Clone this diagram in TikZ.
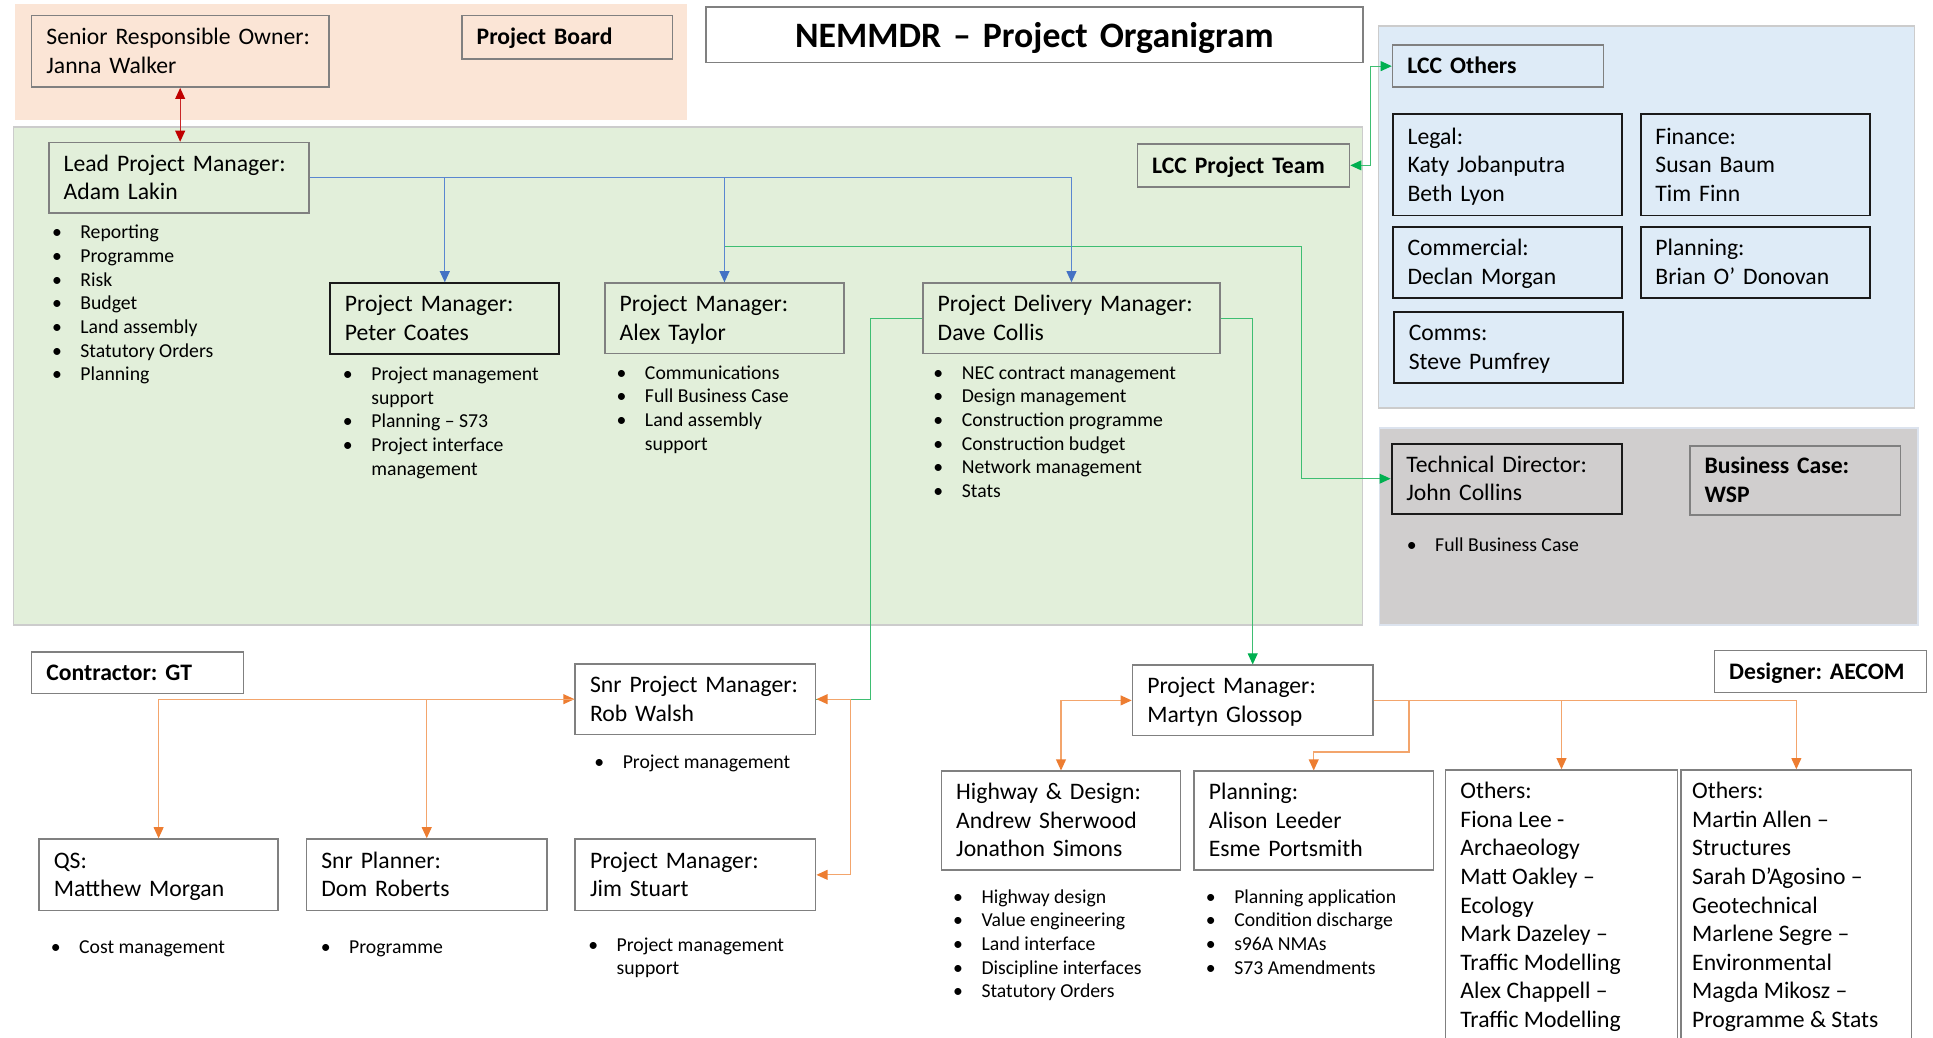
\documentclass[tikz,border=0pt]{standalone}
\usepackage{fontspec}
\setmainfont{Carlito}
\usetikzlibrary{arrows.meta}
\frenchspacing

\definecolor{pinkbg}{HTML}{FBE5D6}
\definecolor{greenbg}{HTML}{E2EFDA}
\definecolor{bluebg}{HTML}{DEEBF7}
\definecolor{greybg}{HTML}{D0CECE}
\definecolor{panelrule}{HTML}{CCCCCC}
\definecolor{greyrule}{HTML}{DCE3EE}
\definecolor{boxrule}{HTML}{808080}
\definecolor{darkrule}{HTML}{1A1A1A}
\definecolor{bluetip}{HTML}{4472C4}
\definecolor{blueline}{HTML}{5A86D0}
\definecolor{greentip}{HTML}{00B050}
\definecolor{greenline}{HTML}{3EBE72}
\definecolor{orangetip}{HTML}{ED7D31}
\definecolor{orangeline}{HTML}{F3A56C}
\definecolor{redtip}{HTML}{C00000}

\newcommand{\boxfont}{\fontsize{19.2}{23.2}\selectfont}
\newcommand{\titlefont}{\fontsize{29}{34}\selectfont\bfseries}
\newcommand{\listfont}{\fontsize{16}{19.2}\selectfont}
\newcommand{\itm}[1]{\strut\makebox[23pt][l]{\textbullet}#1}
\newcommand{\cont}[1]{\strut\hspace*{23pt}#1}

\tikzset{
  btip/.tip={Triangle[length=9pt,width=8pt,color=bluetip]},
  gtip/.tip={Triangle[length=9pt,width=8pt,color=greentip]},
  otip/.tip={Triangle[length=9pt,width=8pt,color=orangetip]},
  rtip/.tip={Triangle[length=9pt,width=8pt,color=redtip]},
  box/.style={draw=boxrule, line width=1.3pt, anchor=north west, align=left,
    inner xsep=12pt, inner ysep=0pt, font=\boxfont,
    execute at begin node=\rule{0pt}{19.5pt}, execute at end node=\strut},
  titlebox/.style={box, align=center, font=\titlefont,
    execute at begin node=\rule{0pt}{31.5pt}},
  dark/.style={draw=darkrule, line width=1.6pt},
  bold/.style={font=\boxfont\bfseries},
  tallbox/.style={draw=boxrule, line width=1.3pt, anchor=north west,
    inner xsep=12pt, inner ysep=7pt, font=\boxfont, fill=white},
  list/.style={anchor=north west, inner sep=0pt, align=left, font=\listfont},
  panel/.style={draw=panelrule, line width=1.2pt},
  conn/.style={line width=1pt},
  bl/.style={conn, draw=blueline, -{btip}},
  gr/.style={conn, draw=greenline, -{gtip}},
  grboth/.style={conn, draw=greenline, {gtip}-{gtip}},
  grline/.style={conn, draw=greenline},
  or/.style={conn, draw=orangeline, -{otip}},
  orboth/.style={conn, draw=orangeline, {otip}-{otip}},
  rdboth/.style={conn, draw=redtip!85, {rtip}-{rtip}},
}

\begin{document}
\begin{tikzpicture}[x=1pt,y=-1pt]
\path[use as bounding box, clip] (0,0) rectangle (1568,842);
\fill[white] (0,0) rectangle (1568,842);

% background panels
\fill[pinkbg] (12,3) rectangle (557,97);
\filldraw[fill=greenbg, panel] (11,103) rectangle (1105,507);
\filldraw[fill=bluebg, panel] (1118,21) rectangle (1553,331);
\filldraw[fill=greybg, draw=greyrule, line width=1.2pt] (1119,347) rectangle (1556,507);

% project board
\node[box, fill=pinkbg, text width=217pt, minimum height=58pt] (sro) at (25,12)
  {Senior Responsible Owner:\\Janna Walker};
\node[box, bold, fill=pinkbg, text width=147pt, minimum height=35pt] (board) at (374,12)
  {Project Board};
\node[titlebox, fill=white, text width=509pt, minimum height=45pt] (title) at (572,5)
  {NEMMDR – Project Organigram};

% LCC project team
\node[box, fill=greenbg, text width=187pt, minimum height=57pt] (lead) at (39,115)
  {Lead Project Manager:\\Adam Lakin};
\node[box, bold, fill=greenbg, text width=148pt, minimum height=35pt] (team) at (922,116)
  {LCC Project Team};
\node[box, dark, fill=greenbg, text width=162pt, minimum height=57pt] (peter) at (267,229)
  {Project Manager:\\Peter Coates};
\node[box, fill=greenbg, text width=170pt, minimum height=57pt] (alex) at (490,229)
  {Project Manager:\\Alex Taylor};
\node[box, fill=greenbg, text width=217pt, minimum height=57pt] (dave) at (748,229)
  {Project Delivery Manager:\\Dave Collis};

\node[list] (leadlist) at (42,180)
  {\itm{Reporting}\\\itm{Programme}\\\itm{Risk}\\\itm{Budget}\\\itm{Land assembly}\\\itm{Statutory Orders}\\\itm{Planning}};
\node[list] (peterlist) at (278,295)
  {\itm{Project management}\\\cont{support}\\\itm{Planning – S73}\\\itm{Project interface}\\\cont{management}};
\node[list] (alexlist) at (500,294)
  {\itm{Communications}\\\itm{Full Business Case}\\\itm{Land assembly}\\\cont{support}};
\node[list] (davelist) at (757,294)
  {\itm{NEC contract management}\\\itm{Design management}\\\itm{Construction programme}\\\itm{Construction budget}\\\itm{Network management}\\\itm{Stats}};

% LCC others
\node[box, bold, fill=bluebg, text width=147pt, minimum height=34pt] (others) at (1129,36)
  {LCC Others};
\node[box, dark, fill=bluebg, text width=162pt, minimum height=82pt] (legal) at (1129,92)
  {Legal:\\Katy Jobanputra\\Beth Lyon};
\node[box, dark, fill=bluebg, text width=162pt, minimum height=82pt] (finance) at (1330,92)
  {Finance:\\Susan Baum\\Tim Finn};
\node[box, dark, fill=bluebg, text width=162pt, minimum height=58pt] (commercial) at (1129,183)
  {Commercial:\\Declan Morgan};
\node[box, dark, fill=bluebg, text width=162pt, minimum height=58pt] (lccplan) at (1330,183)
  {Planning:\\Brian O’ Donovan};
\node[box, dark, fill=bluebg, text width=162pt, minimum height=58pt] (comms) at (1130,252)
  {Comms:\\Steve Pumfrey};

% technical support
\node[box, dark, fill=greybg, text width=163pt, minimum height=57pt] (techdir) at (1128,359)
  {Technical Director:\\John Collins};
\node[box, bold, fill=greybg, text width=147pt, minimum height=56pt] (bizcase) at (1370,361)
  {Business Case:\\WSP};
\node[list] (techlist) at (1141,434) {\itm{Full Business Case}};

% contractor
\node[box, bold, fill=white, text width=148pt, minimum height=34pt] (contractor) at (25,528)
  {Contractor: GT};
\node[box, fill=white, text width=171pt, minimum height=57pt] (rob) at (466,538)
  {Snr Project Manager:\\Rob Walsh};
\node[box, fill=white, text width=170pt, minimum height=58pt] (qs) at (31,680)
  {QS:\\Matthew Morgan};
\node[box, fill=white, text width=171pt, minimum height=58pt] (planner) at (248,680)
  {Snr Planner:\\Dom Roberts};
\node[box, fill=white, text width=171pt, minimum height=58pt] (jim) at (466,680)
  {Project Manager:\\Jim Stuart};
\node[list] (roblist) at (482,610) {\itm{Project management}};
\node[list] (qslist) at (41,760) {\itm{Cost management}};
\node[list] (plannerlist) at (260,760) {\itm{Programme}};
\node[list] (jimlist) at (477,758) {\itm{Project management}\\\cont{support}};

% designer
\node[box, bold, fill=white, text width=148pt, minimum height=34pt] (designer) at (1390,527)
  {Designer: AECOM};
\node[box, fill=white, text width=171pt, minimum height=57pt] (martyn) at (918,539)
  {Project Manager:\\Martyn Glossop};
\node[box, fill=white, text width=170pt, minimum height=80pt] (highway) at (763,625)
  {Highway \& Design:\\Andrew Sherwood\\Jonathon Simons};
\node[box, fill=white, text width=170pt, minimum height=80pt] (planning) at (968,625)
  {Planning:\\Alison Leeder\\Esme Portsmith};
\node[tallbox] (others1) at (1172,624)
  {\begin{minipage}[t][235pt][t]{164pt}\strut Others:\\Fiona Lee -\\Archaeology\\Matt Oakley –\\Ecology\\Mark Dazeley –\\Traffic Modelling\\Alex Chappell –\\Traffic Modelling\end{minipage}};
\node[tallbox, inner xsep=9pt] (others2) at (1363,624)
  {\begin{minipage}[t][235pt][t]{169pt}\strut Others:\\Martin Allen –\\Structures\\Sarah D’Agosino –\\Geotechnical\\Marlene Segre –\\Environmental\\Magda Mikosz –\\Programme \& Stats\end{minipage}};
\node[list] (highwaylist) at (773,719)
  {\itm{Highway design}\\\itm{Value engineering}\\\itm{Land interface}\\\itm{Discipline interfaces}\\\itm{Statutory Orders}};
\node[list] (planninglist) at (978,719)
  {\itm{Planning application}\\\itm{Condition discharge}\\\itm{s96A NMAs}\\\itm{S73 Amendments}};

% routing points
\coordinate (fbc) at (1056,200);
\coordinate (westdrop) at (706,400);
\coordinate (lccjoin) at (1112,90);
\coordinate (robjim) at (690,640);
\coordinate (planjoin) at (1143,610);

% connectors
\draw[rdboth] (sro.south) -- (sro.south |- lead.north);
\draw[grboth] (team.east) -| (lccjoin) |- (others.west);
\draw[gr] (alex.north) |- (fbc) |- (techdir.west);
\draw[bl] (lead.east) -| (peter.north);
\draw[bl] (lead.east) -| (alex.north);
\draw[bl] (lead.east) -| (dave.north);
\draw[grline] (dave.west) -| (westdrop) |- (rob.east);
\draw[gr] (dave.east) -| (martyn.north);
\draw[orboth] (rob.east) -| (robjim) |- (jim.east);
\draw[orboth] (rob.west) -| (qs.north);
\draw[or] (rob.west) -| (planner.north);
\draw[orboth] (martyn.west) -| (highway.north);
\draw[or] (martyn.east) -| (planjoin) -| (planning.north);
\draw[or] (martyn.east) -| (others1.north);
\draw[or] (martyn.east) -| (others2.north);
\end{tikzpicture}
\end{document}
